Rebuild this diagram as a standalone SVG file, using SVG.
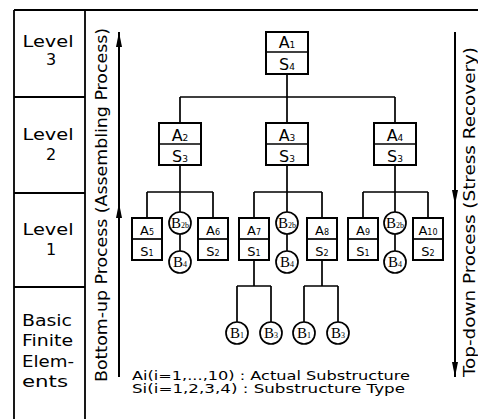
<svg xmlns="http://www.w3.org/2000/svg" width="478" height="419" viewBox="0 0 478 419">
  <style>
    .frame { stroke: #000; stroke-width: 1.8; fill: none; }
    .ln { stroke: #000; stroke-width: 1.7; fill: none; }
    .arrow { stroke: #000; stroke-width: 2; fill: none; }
    .bx { fill: #fff; stroke: #000; stroke-width: 2; }
    .cir { fill: #fff; stroke: #000; stroke-width: 1.7; }
    .t { font-family: "DejaVu Sans", "Liberation Sans", sans-serif; fill: #000; }
    .lvl { font-size: 16px; text-anchor: middle; }
    .side { font-size: 16px; }
    .big { font-size: 16px; text-anchor: middle; }
    .small { font-size: 13px; text-anchor: middle; }
    .sub9 { font-size: 9px; }
    .sub8 { font-size: 8px; }
    .b { font-family: "Liberation Serif", "DejaVu Serif", serif; font-size: 15px; text-anchor: middle; fill: #000; }
    .leg { font-size: 12px; }
  </style>
  <defs>
    <marker id="head" viewBox="0 0 15 6" refX="15" refY="3" markerWidth="15" markerHeight="6" markerUnits="userSpaceOnUse" orient="auto">
      <path d="M0,0 L15,3 L0,6 z" fill="#000"/>
    </marker>
  </defs>

  <rect width="478" height="419" fill="#fff"/>

  <!-- level table on the left -->
  <g id="level-table">
    <path class="frame" d="M14 10 H478 M14 10 V419 M85 10 V419 M14 97 H85 M14 193 H85 M14 287 H85"/>
    <text class="t lvl" x="48" y="47" textLength="51" lengthAdjust="spacingAndGlyphs">Level</text>
    <text class="t lvl" x="51" y="65">3</text>
    <text class="t lvl" x="48" y="140" textLength="51" lengthAdjust="spacingAndGlyphs">Level</text>
    <text class="t lvl" x="51" y="160">2</text>
    <text class="t lvl" x="48" y="235" textLength="51" lengthAdjust="spacingAndGlyphs">Level</text>
    <text class="t lvl" x="51" y="255">1</text>
    <text class="t side" x="22" y="326" textLength="50" lengthAdjust="spacingAndGlyphs">Basic</text>
    <text class="t side" x="22" y="346" textLength="51" lengthAdjust="spacingAndGlyphs">Finite</text>
    <text class="t side" x="22" y="367" textLength="52" lengthAdjust="spacingAndGlyphs">Elem-</text>
    <text class="t side" x="22" y="387" textLength="46" lengthAdjust="spacingAndGlyphs">ents</text>
  </g>

  <!-- process arrows -->
  <g id="bottom-up">
    <path class="arrow" d="M119 377 L119 203 L119 32" marker-mid="url(#head)" marker-end="url(#head)"/>
    <text class="t side" transform="translate(107 382) rotate(-90)" textLength="354" lengthAdjust="spacingAndGlyphs">Bottom-up Process (Assembling Process)</text>
  </g>
  <g id="top-down">
    <path class="arrow" d="M455 32 L455 205 L455 377" marker-mid="url(#head)" marker-end="url(#head)"/>
    <text class="t" font-size="15" transform="translate(475 377) rotate(-90)" textLength="330" lengthAdjust="spacingAndGlyphs">Top-down Process (Stress Recovery)</text>
  </g>

  <!-- connectors -->
  <g id="connectors">
    <path class="ln" d="M287 74 V97 M180 97 H395 M180 97 V123 M287 97 V123 M395 97 V123"/>
    <path class="ln" d="M180 165 V192 M147 192 H213 M147 192 V218 M180 192 V212 M213 192 V218 M180 234 V251"/>
    <path class="ln" d="M287 165 V192 M254 192 H322 M254 192 V218 M287 192 V212 M322 192 V218 M287 234 V251"/>
    <path class="ln" d="M395 165 V192 M363 192 H428 M363 192 V218 M395 192 V212 M428 192 V218 M395 234 V251"/>
    <path class="ln" d="M254 260 V286 M237 286 H271 M237 286 V322 M271 286 V322"/>
    <path class="ln" d="M322 260 V286 M304 286 H338 M304 286 V322 M338 286 V322"/>
  </g>

  <!-- level 3 -->
  <g id="A1">
    <rect class="bx" x="266" y="32" width="42" height="42"/>
    <path class="ln" d="M266 52 H308"/>
    <text class="t big" x="287" y="48">A<tspan class="sub9">1</tspan></text>
    <text class="t big" x="287" y="70">S<tspan class="sub9">4</tspan></text>
  </g>

  <!-- level 2 -->
  <g id="A2">
    <rect class="bx" x="159" y="123" width="42" height="42"/>
    <path class="ln" d="M159 144 H201"/>
    <text class="t big" x="180" y="141">A<tspan class="sub9">2</tspan></text>
    <text class="t big" x="180" y="162">S<tspan class="sub9">3</tspan></text>
  </g>
  <g id="A3">
    <rect class="bx" x="266" y="123" width="42" height="42"/>
    <path class="ln" d="M266 144 H308"/>
    <text class="t big" x="287" y="141">A<tspan class="sub9">3</tspan></text>
    <text class="t big" x="287" y="162">S<tspan class="sub9">3</tspan></text>
  </g>
  <g id="A4">
    <rect class="bx" x="374" y="123" width="42" height="42"/>
    <path class="ln" d="M374 144 H416"/>
    <text class="t big" x="395" y="141">A<tspan class="sub9">4</tspan></text>
    <text class="t big" x="395" y="162">S<tspan class="sub9">3</tspan></text>
  </g>

  <!-- level 1 -->
  <g id="A5">
    <rect class="bx" x="132" y="218" width="30" height="42"/>
    <path class="ln" d="M132 239 H162"/>
    <text class="t small" x="147" y="235">A<tspan class="sub8">5</tspan></text>
    <text class="t small" x="147" y="256">S<tspan class="sub8">1</tspan></text>
  </g>
  <g id="A6">
    <rect class="bx" x="198" y="218" width="30" height="42"/>
    <path class="ln" d="M198 239 H228"/>
    <text class="t small" x="213" y="235">A<tspan class="sub8">6</tspan></text>
    <text class="t small" x="213" y="256">S<tspan class="sub8">2</tspan></text>
  </g>
  <g id="A7">
    <rect class="bx" x="239" y="218" width="30" height="42"/>
    <path class="ln" d="M239 239 H269"/>
    <text class="t small" x="254" y="235">A<tspan class="sub8">7</tspan></text>
    <text class="t small" x="254" y="256">S<tspan class="sub8">1</tspan></text>
  </g>
  <g id="A8">
    <rect class="bx" x="307" y="218" width="30" height="42"/>
    <path class="ln" d="M307 239 H337"/>
    <text class="t small" x="322" y="235">A<tspan class="sub8">8</tspan></text>
    <text class="t small" x="322" y="256">S<tspan class="sub8">2</tspan></text>
  </g>
  <g id="A9">
    <rect class="bx" x="348" y="218" width="30" height="42"/>
    <path class="ln" d="M348 239 H378"/>
    <text class="t small" x="363" y="235">A<tspan class="sub8">9</tspan></text>
    <text class="t small" x="363" y="256">S<tspan class="sub8">1</tspan></text>
  </g>
  <g id="A10">
    <rect class="bx" x="413" y="218" width="30" height="42"/>
    <path class="ln" d="M413 239 H443"/>
    <text class="t small" x="428" y="235">A<tspan class="sub8">10</tspan></text>
    <text class="t small" x="428" y="256">S<tspan class="sub8">2</tspan></text>
  </g>

  <!-- element circles -->
  <g id="B2b-a"><circle class="cir" cx="180" cy="223" r="11"/><text class="b" x="180" y="228">B<tspan class="sub8">2b</tspan></text></g>
  <g id="B4-a"><circle class="cir" cx="180" cy="262" r="11"/><text class="b" x="180" y="267">B<tspan class="sub8">4</tspan></text></g>
  <g id="B2b-b"><circle class="cir" cx="287" cy="223" r="11"/><text class="b" x="287" y="228">B<tspan class="sub8">2b</tspan></text></g>
  <g id="B4-b"><circle class="cir" cx="287" cy="262" r="11"/><text class="b" x="287" y="267">B<tspan class="sub8">4</tspan></text></g>
  <g id="B2b-c"><circle class="cir" cx="395" cy="223" r="11"/><text class="b" x="395" y="228">B<tspan class="sub8">2b</tspan></text></g>
  <g id="B4-c"><circle class="cir" cx="395" cy="262" r="11"/><text class="b" x="395" y="267">B<tspan class="sub8">4</tspan></text></g>
  <g id="B1-a"><circle class="cir" cx="237" cy="333" r="11"/><text class="b" x="237" y="338">B<tspan class="sub8">1</tspan></text></g>
  <g id="B3-a"><circle class="cir" cx="271" cy="333" r="11"/><text class="b" x="271" y="338">B<tspan class="sub8">3</tspan></text></g>
  <g id="B1-b"><circle class="cir" cx="304" cy="333" r="11"/><text class="b" x="304" y="338">B<tspan class="sub8">1</tspan></text></g>
  <g id="B3-b"><circle class="cir" cx="338" cy="333" r="11"/><text class="b" x="338" y="338">B<tspan class="sub8">3</tspan></text></g>

  <!-- legend -->
  <g id="legend">
    <text class="t leg" x="132" y="380" textLength="278" lengthAdjust="spacingAndGlyphs">Ai(i=1,...,10) : Actual Substructure</text>
    <text class="t leg" x="132" y="393" textLength="273" lengthAdjust="spacingAndGlyphs">Si(i=1,2,3,4) : Substructure Type</text>
  </g>
</svg>
